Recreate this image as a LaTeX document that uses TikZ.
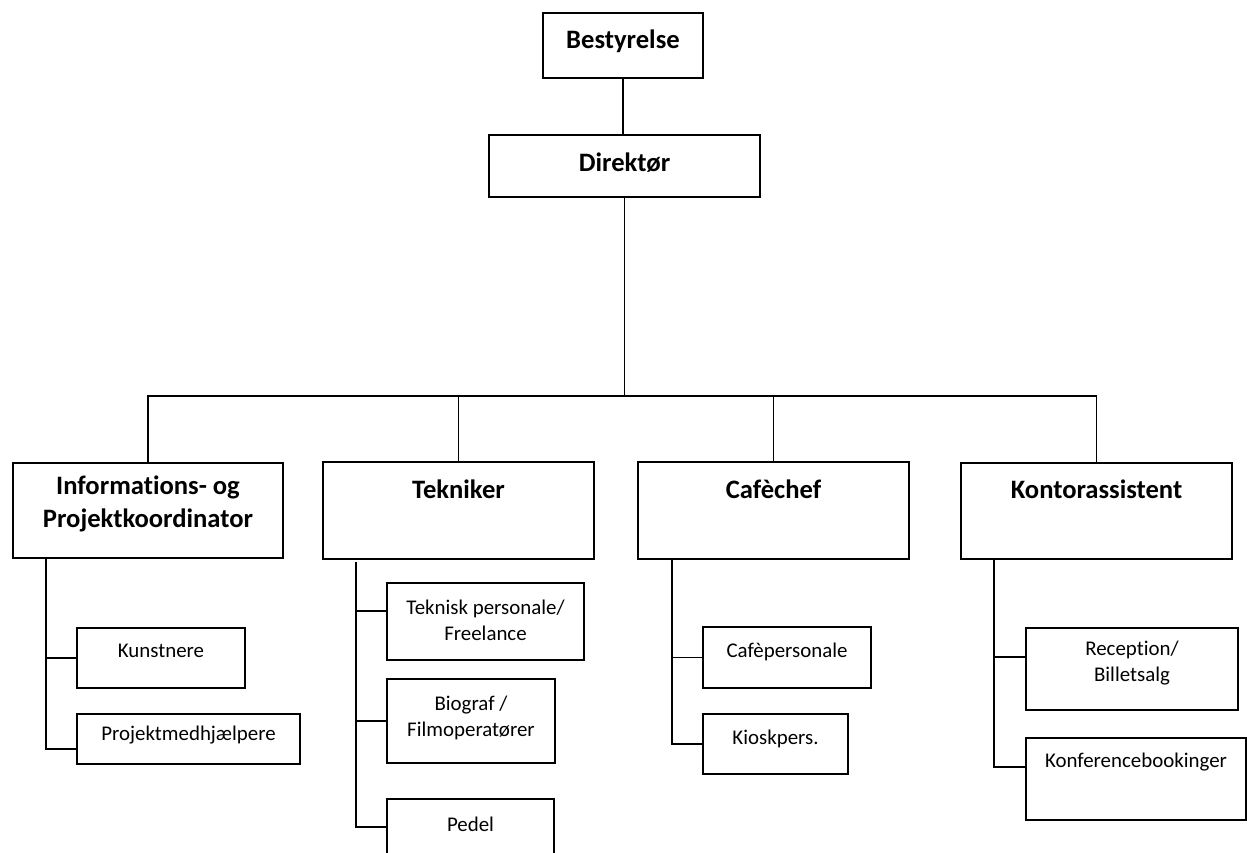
\documentclass[tikz,border=0pt]{standalone}
\usepackage{fontspec}
\setmainfont{Carlito}[Ligatures=CommonOff]
\newcommand{\titlefont}{\fontsize{26.6}{33}\selectfont\bfseries}
\newcommand{\smallfont}{\fontsize{20.9}{25.5}\selectfont}
\newcommand{\twolines}[2]{\begin{tabular}[t]{@{}c@{}}#1\\#2\end{tabular}}
\tikzset{
  orgbox/.style={draw, line width=1.8pt, inner sep=0pt, anchor=north, fill=white},
  titlebox/.style={orgbox, font=\titlefont},
  subbox/.style={orgbox, font=\smallfont},
  conn/.style={line width=1.8pt}
}
\begin{document}
\begin{tikzpicture}[x=1pt, y=-1pt]
\useasboundingbox (0,0) rectangle (1247,853);
\clip (0,0) rectangle (1247,853);
\fill[white] (0,0) rectangle (1247,853);

% top level
\node[titlebox, minimum width=160pt, text height=36pt, text depth=29pt] (best) at (623,12) {Bestyrelse};
\node[titlebox, minimum width=271pt, text height=37pt, text depth=25pt] (dir) at (624.5,134) {Direktør};

% second level
\node[titlebox, minimum width=270pt, text height=32pt, text depth=63pt] (info) at (148,462) {\twolines{Informations- og}{Projektkoordinator}};
\node[titlebox, minimum width=271pt, text height=37pt, text depth=60pt] (tek) at (458.5,461) {Tekniker};
\node[titlebox, minimum width=271pt, text height=37pt, text depth=60pt] (cafe) at (773.5,461) {Cafèchef};
\node[titlebox, minimum width=271pt, text height=36pt, text depth=60pt] (kontor) at (1096.5,462) {Kontorassistent};

% third level
\node[subbox, minimum width=168pt, text height=30pt, text depth=30pt] (kun) at (161,627) {Kunstnere};
\node[subbox, minimum width=223pt, text height=27pt, text depth=23pt] (proj) at (188.5,713) {Projektmedhjælpere};

\node[subbox, minimum width=197pt, text height=32pt, text depth=45pt] (tekpers) at (485.5,582) {\twolines{Teknisk personale/}{Freelance}};
\node[subbox, minimum width=168pt, text height=32pt, text depth=52pt] (bio) at (471,678) {\twolines{Biograf /}{Filmoperatører}};
\node[subbox, minimum width=167pt, text height=33pt, text depth=49pt] (pedel) at (470.5,798) {Pedel};

\node[subbox, minimum width=168pt, text height=31pt, text depth=30pt] (cafep) at (787,626) {Cafèpersonale};
\node[subbox, minimum width=145pt, text height=31pt, text depth=29pt] (kiosk) at (775.5,713) {Kioskpers.};

\node[subbox, minimum width=212pt, text height=28pt, text depth=54pt] (recep) at (1132,627) {\twolines{Reception/}{Billetsalg}};
\node[subbox, minimum width=220pt, text height=30pt, text depth=52pt] (konf) at (1136,737) {Konferencebookinger};

% connectors top
\coordinate (bus) at (625,396);
\draw[conn] (best.south) -- (best.south |- dir.north);
\draw[conn] (dir.south) -- (dir.south |- bus);
\draw[conn] (info.north |- bus) -- (kontor.north |- bus);
\draw[conn] (bus) -| (info.north);
\draw[conn] (bus) -| (tek.north);
\draw[conn] (bus) -| (cafe.north);
\draw[conn] (bus) -| (kontor.north);

% Informations subtree
\coordinate (itop) at (46,557);
\coordinate (ibot) at (46,749);
\draw[conn] (itop) -- (ibot) -- (ibot -| proj.west);
\draw[conn] (kun.west -| itop) -- (kun.west);

% Tekniker subtree
\coordinate (ttop) at (356,562);
\coordinate (tbot) at (356,827);
\coordinate (t1) at (356,611);
\draw[conn] (ttop) -- (tbot) -- (tbot -| pedel.west);
\draw[conn] (t1) -- (t1 -| tekpers.west);
\draw[conn] (bio.west -| ttop) -- (bio.west);

% Cafe subtree
\coordinate (ctop) at (672,558);
\draw[conn] (ctop) -- (kiosk.west -| ctop) -- (kiosk.west);
\draw[conn] (cafep.west -| ctop) -- (cafep.west);

% Kontor subtree
\coordinate (ktop) at (994,558);
\coordinate (kbot) at (994,767);
\coordinate (k1) at (994,657);
\draw[conn] (ktop) -- (kbot) -- (kbot -| konf.west);
\draw[conn] (k1) -- (k1 -| recep.west);
\end{tikzpicture}
\end{document}
